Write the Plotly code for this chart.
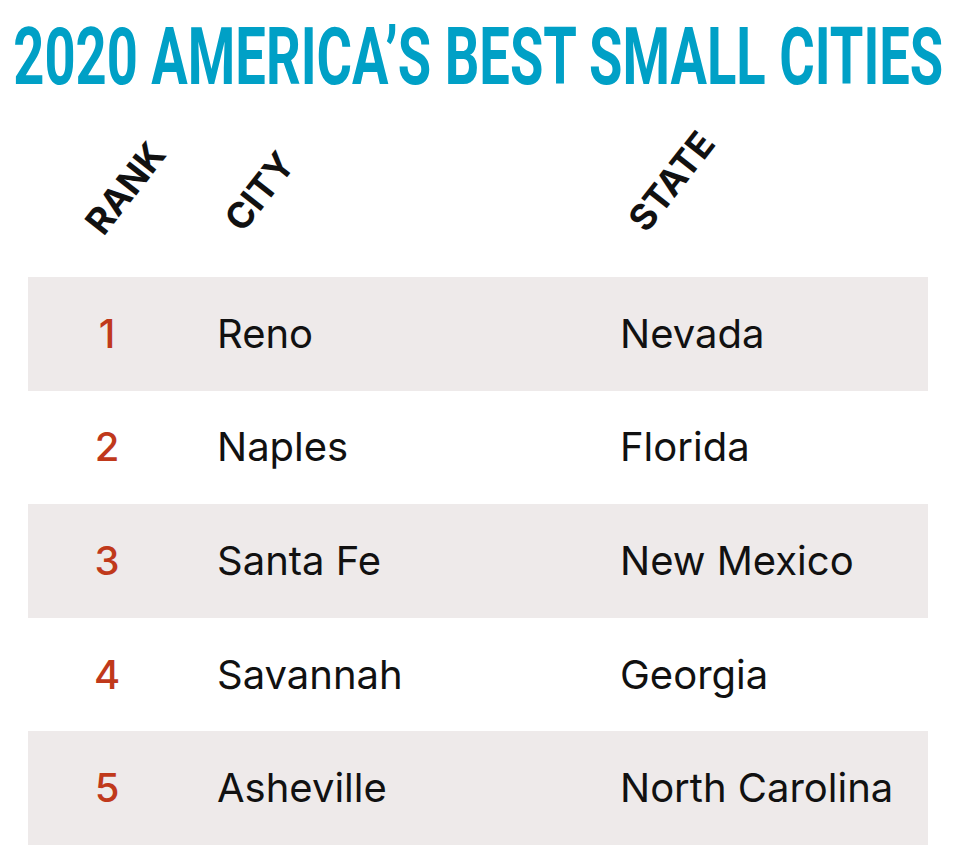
import plotly.graph_objects as go

# table data
ranks = [1, 2, 3, 4, 5]
cities = ["Reno", "Naples", "Santa Fe", "Savannah", "Asheville"]
states = ["Nevada", "Florida", "New Mexico", "Georgia", "North Carolina"]
headers = ["RANK", "CITY", "STATE"]
title = "2020 AMERICA’S BEST SMALL CITIES"

W, H = 957, 851
BAND = "#EEEAEA"
RED = "#C0391B"
TEAL = "#00A0C6"

# column x positions (axis units == pixels)
x_rank, x_city, x_state = 107, 217, 620

fig = go.Figure()

# shaded bands on odd rows
band_ranks = [r for r in ranks if r % 2 == 1]
fig.add_trace(go.Bar(
    y=band_ranks, x=[900] * len(band_ranks), base=28,
    orientation="h", width=1, marker=dict(color=BAND, line=dict(width=0)),
    hoverinfo="skip", showlegend=False,
))

body_font = dict(family="Inter", size=40, color="#111111")

# text sits on y2, nudged a few px lower than the band centres
fig.add_trace(go.Scatter(
    x=[x_rank] * len(ranks), y=ranks, text=[str(r) for r in ranks], yaxis="y2",
    mode="text", textposition="middle center",
    textfont=dict(family="Inter", size=40, color=RED, weight=500), showlegend=False,
))
fig.add_trace(go.Scatter(
    x=[x_city] * len(cities), y=ranks, text=cities, yaxis="y2",
    mode="text", textposition="middle right", textfont=body_font, showlegend=False,
))
fig.add_trace(go.Scatter(
    x=[x_state] * len(states), y=ranks, text=states, yaxis="y2",
    mode="text", textposition="middle right", textfont=body_font, showlegend=False,
))

# rotated column headers
head_pos = [(73, 245), (213, 242), (616, 242)]
for txt, (px, py) in zip(headers, head_pos):
    fig.add_annotation(
        x=px / W, y=1 - py / H, xref="paper", yref="paper",
        xanchor="left", yanchor="bottom", text=txt, showarrow=False,
        textangle=-52, font=dict(family="Inter", size=36, color="#111111", weight=700),
    )

fig.add_annotation(
    x=0.5, y=1 - 57 / H, xref="paper", yref="paper", xanchor="center", yanchor="middle",
    text=title, showarrow=False,
    font=dict(family="Roboto", size=80, color=TEAL, weight=700),
)

shift = 4 / 113.6
fig.update_layout(
    width=W, height=H, margin=dict(l=0, r=0, t=0, b=0),
    paper_bgcolor="white", plot_bgcolor="white",
    xaxis=dict(range=[0, W], visible=False, fixedrange=True),
    yaxis=dict(range=[5.5, 0.5], domain=[1 - 845 / H, 1 - 277 / H],
               visible=False, fixedrange=True),
    yaxis2=dict(range=[5.5 - shift, 0.5 - shift], domain=[1 - 845 / H, 1 - 277 / H],
                overlaying="y", visible=False, fixedrange=True),
    bargap=0,
)

# page margin off, and squeeze the title into a condensed look (target width 930px)
js = """
document.body.style.margin = '0';
document.querySelectorAll('text.annotation-text').forEach(function (t) {
  if (t.textContent.indexOf('AMERICA') < 0) return;
  var bb = t.getBBox();
  var cx = bb.x + bb.width / 2;
  var s = 930 / bb.width;
  t.setAttribute('transform', 'translate(' + cx + ',0) scale(' + s + ',1) translate(' + (-cx) + ',0)');
});
"""

fig.write_html("out.html", post_script=js, config={"displayModeBar": False})
